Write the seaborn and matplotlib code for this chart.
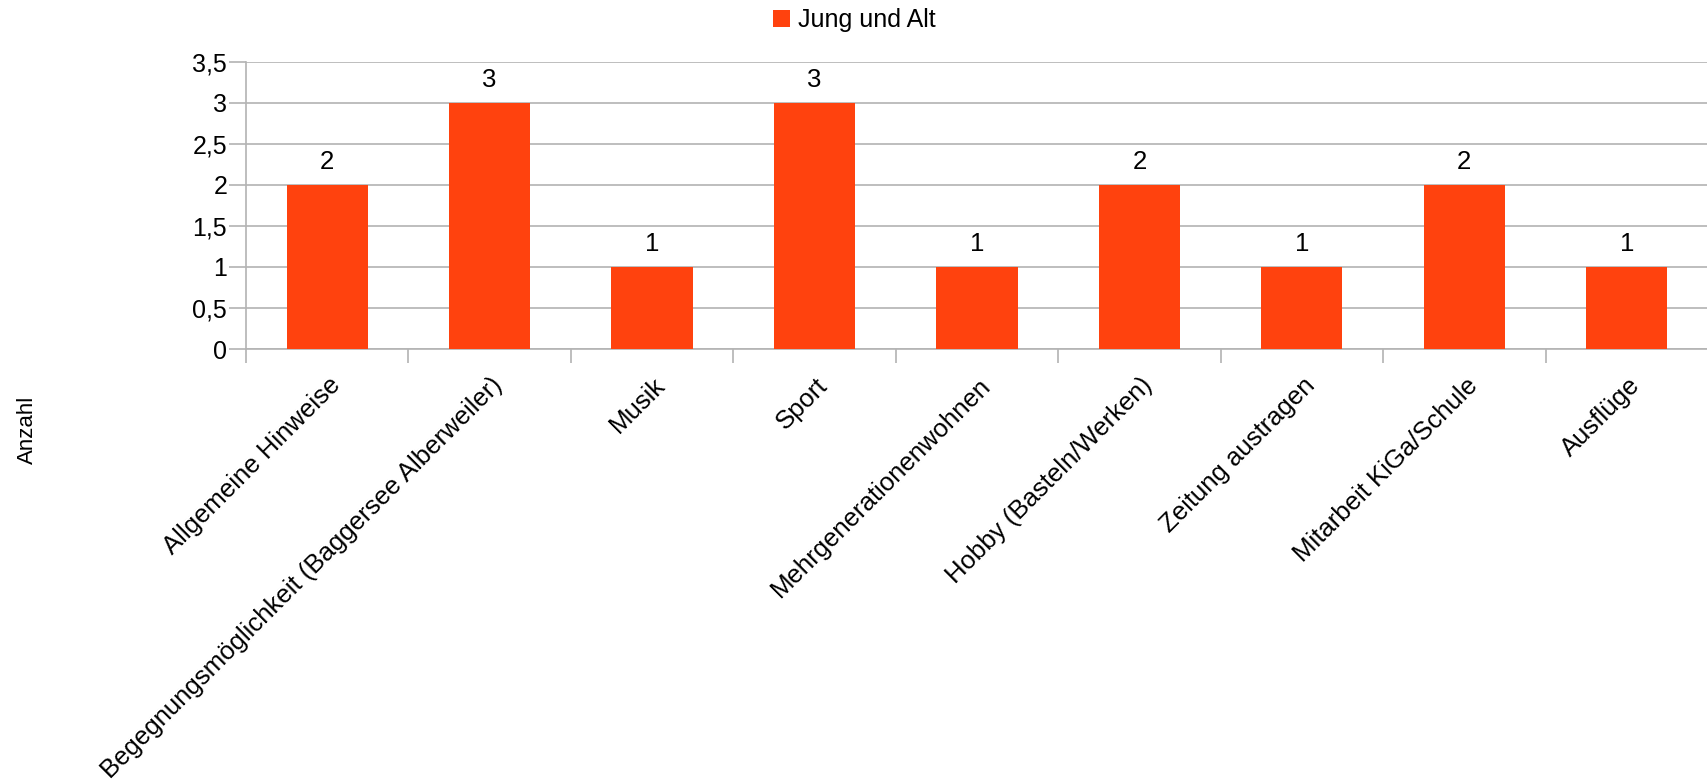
import matplotlib
matplotlib.use("Agg")
import matplotlib.pyplot as plt
import matplotlib.transforms as mtrans
import numpy as np
import pandas as pd
import seaborn as sns
from matplotlib.ticker import MultipleLocator, FuncFormatter

# --- DATA ---
categories = [
    "Allgemeine Hinweise",
    "Begegnungsmöglichkeit (Baggersee Alberweiler)",
    "Musik",
    "Sport",
    "Mehrgenerationenwohnen",
    "Hobby (Basteln/Werken)",
    "Zeitung austragen",
    "Mitarbeit KiGa/Schule",
    "Ausflüge",
]
values = [2, 3, 1, 3, 1, 2, 1, 2, 1]
series_name = "Jung und Alt"
y_label = "Anzahl"

# --- STYLE ---
sns.set_style("white", {"xtick.bottom": True, "ytick.left": True,
                        "text.color": "black", "xtick.color": "black",
                        "ytick.color": "black"})
plt.rcParams["font.family"] = ["Liberation Sans", "DejaVu Sans"]
bar_color = "#ff420e"
grid_color = "#b3b3b3"

df = pd.DataFrame({"Kategorie": categories, "Anzahl": values})

fig = plt.figure(figsize=(17.08, 7.81), dpi=100)
ax = fig.add_axes([0.144, 0.553, 0.856, 0.368])

sns.barplot(data=df, x="Kategorie", y="Anzahl", color=bar_color, width=0.5,
            saturation=1, linewidth=0, ax=ax, label=series_name, zorder=3)

ax.set_ylim(0, 3.5)
ax.set_xlim(-0.5, len(categories) - 0.5)
ax.yaxis.set_major_locator(MultipleLocator(0.5))
ax.yaxis.set_major_formatter(FuncFormatter(lambda v, _: f"{v:g}".replace(".", ",")))
ax.grid(axis="y", color=grid_color, linewidth=1.2, zorder=0)
ax.set_axisbelow(True)

for s in ["top", "right"]:
    ax.spines[s].set_visible(False)
for s in ["left", "bottom"]:
    ax.spines[s].set_color(grid_color)
    ax.spines[s].set_linewidth(1.2)

ax.tick_params(axis="y", length=12, width=1.2, color=grid_color,
               labelcolor="black", labelsize=18, pad=1.5)
ax.tick_params(axis="x", which="major", length=0, labelsize=18.5, pad=0,
               labelcolor="black")
ax.set_xticks(np.arange(-0.5, len(categories), 1.0), minor=True)
ax.tick_params(axis="x", which="minor", length=10, width=1.2, color=grid_color)
ax.set_xticks(range(len(categories)))
ax.set_xticklabels(categories, rotation=45, ha="right", rotation_mode="anchor")
shift = mtrans.ScaledTranslation(0.01, -0.24, fig.dpi_scale_trans)
for lbl in ax.get_xticklabels():
    lbl.set_transform(lbl.get_transform() + shift)

for i, v in enumerate(values):
    ax.annotate(f"{v}", (i, v), xytext=(0, 8), textcoords="offset points",
                ha="center", va="bottom", fontsize=18.5, color="black")

ax.set_xlabel("")
ax.set_ylabel("")
fig.text(0.016, 0.45, y_label, rotation=90, ha="center", va="center",
         fontsize=16, color="black")

ax.legend(loc="center", bbox_to_anchor=(0.5, 0.974), bbox_transform=fig.transFigure,
          frameon=False, fontsize=18, handlelength=0.7, handleheight=0.7,
          handletextpad=0.3, labelcolor="black")

fig.savefig("out.png", dpi=100)
